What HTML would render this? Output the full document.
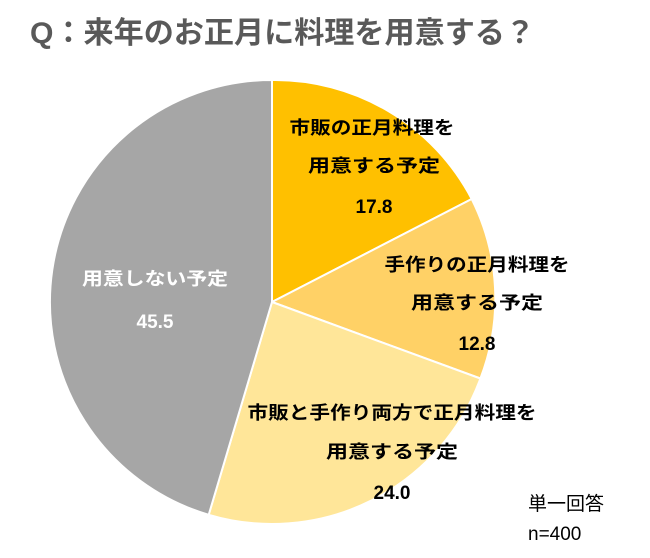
<!DOCTYPE html>
<html><head><meta charset="utf-8"><style>
body{margin:0;width:650px;height:553px;background:#fff;overflow:hidden;font-family:"Liberation Sans","Noto Sans CJK JP",sans-serif}
</style></head><body>
<svg width="650" height="553" viewBox="0 0 650 553" xmlns="http://www.w3.org/2000/svg" style="font-family:'Liberation Sans','Noto Sans CJK JP',sans-serif">
<text x="30" y="43" font-size="30" font-weight="bold" fill="#595959" textLength="505" lengthAdjust="spacingAndGlyphs">Q：来年のお正月に料理を用意する？</text>
<g stroke="#fff" stroke-width="2">
<path d="M272,302 L272,80 A222,222 0 0 1 471.7,199 Z" fill="#FFC000"/>
<path d="M272,302 L471.7,199 A222,222 0 0 1 480.4,378.5 Z" fill="#FFD166"/>
<path d="M272,302 L480.4,378.5 A222,222 0 0 1 208.7,514.8 Z" fill="#FFE699"/>
<path d="M272,302 L208.7,514.8 A222,222 0 0 1 272,80 Z" fill="#A6A6A6"/>
</g>
<g font-size="18" font-weight="bold" fill="#000" text-anchor="middle">
<text x="372" y="134" textLength="165" lengthAdjust="spacingAndGlyphs">市販の正月料理を</text>
<text x="374" y="172" textLength="132" lengthAdjust="spacingAndGlyphs">用意する予定</text>
<text x="374" y="213" font-size="19">17.8</text>
<text x="477" y="271" textLength="185" lengthAdjust="spacingAndGlyphs">手作りの正月料理を</text>
<text x="477" y="309" textLength="132" lengthAdjust="spacingAndGlyphs">用意する予定</text>
<text x="477" y="350" font-size="19">12.8</text>
<text x="392" y="419" textLength="289" lengthAdjust="spacingAndGlyphs">市販と手作り両方で正月料理を</text>
<text x="392" y="458" textLength="132" lengthAdjust="spacingAndGlyphs">用意する予定</text>
<text x="392" y="499" font-size="19">24.0</text>
</g>
<g font-size="18" font-weight="bold" fill="#fff" text-anchor="middle">
<text x="155" y="285" textLength="146" lengthAdjust="spacingAndGlyphs">用意しない予定</text>
<text x="155" y="328" font-size="19">45.5</text>
</g>
<g font-size="19" fill="#000">
<text x="528" y="510">単一回答</text>
<text x="528" y="540">n=400</text>
</g>
</svg>
</body></html>
